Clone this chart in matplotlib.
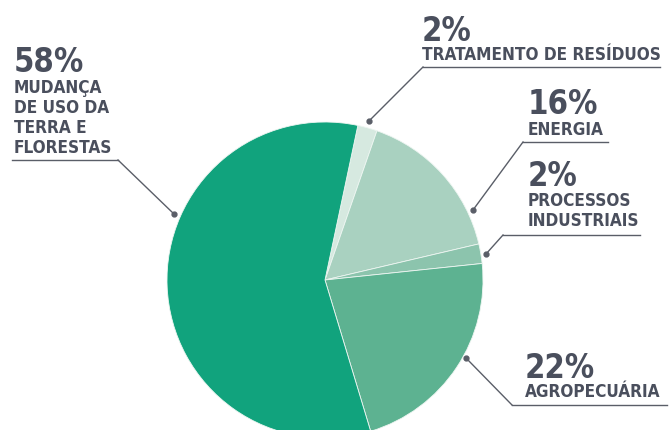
import matplotlib.pyplot as plt

# data
sectors = ["TRATAMENTO DE RESÍDUOS", "ENERGIA", "PROCESSOS\nINDUSTRIAIS",
           "AGROPECUÁRIA", "MUDANÇA\nDE USO DA\nTERRA E\nFLORESTAS"]
shares = [2, 16, 2, 22, 58]
pct_labels = ["2%", "16%", "2%", "22%", "58%"]
colors = ["#d6e9e0", "#a9d1c0", "#8cc4ad", "#5db291", "#11a37d"]

W, H = 669, 430
TXT = "#4a4f5d"
LINE = "#5a5e68"
FONT = "DejaVu Sans"

fig = plt.figure(figsize=(W / 100, H / 100), dpi=100)
ax = fig.add_axes([0, 0, 1, 1])

ax.pie(shares, colors=colors, startangle=78, counterclock=False,
       center=(325, H - 280), radius=158,
       wedgeprops=dict(linewidth=0.6, edgecolor="#eef6f2"))
ax.set_xlim(0, W)
ax.set_ylim(0, H)
ax.set_aspect("equal")
ax.axis("off")

# label layout (pixel coords, y from top):
# pct x, pct baseline, text baseline, underline y, underline x0, x1, dot x, dot y
layout = [
    (422, 41, 60, 67, 423, 660, 369, 121),
    (528, 114, 135, 142, 523, 608, 473, 210),
    (528, 186, 206, 235, 503, 640, 486, 254),
    (525, 378, 397, 405, 512, 667, 466, 358),
    (14, 72, 93, 160, 12, 118, 174, 214),
]
line_gap = 20

for pct, name, (x, pb, tb, uy, ux0, ux1, dx, dy) in zip(pct_labels, sectors, layout):
    ax.text(x, H - pb, pct, fontsize=23.5, fontweight="bold", family=FONT,
            fontstretch="condensed", color=TXT, va="baseline", ha="left")
    for i, line in enumerate(name.split("\n")):
        ax.text(x, H - (tb + i * line_gap), line, fontsize=12.3, fontweight="bold",
                family=FONT, fontstretch="condensed", color=TXT,
                va="baseline", ha="left")
    ax.plot([ux0, ux1], [H - uy, H - uy], color=LINE, lw=1)
    # diagonal leader starts from the underline end closest to the dot
    sx = ux0 if abs(ux0 - dx) < abs(ux1 - dx) else ux1
    ax.plot([sx, dx], [H - uy, H - dy], color=LINE, lw=1)
    ax.plot(dx, H - dy, "o", color=LINE, ms=3.5)

fig.savefig("out.png", dpi=100)
